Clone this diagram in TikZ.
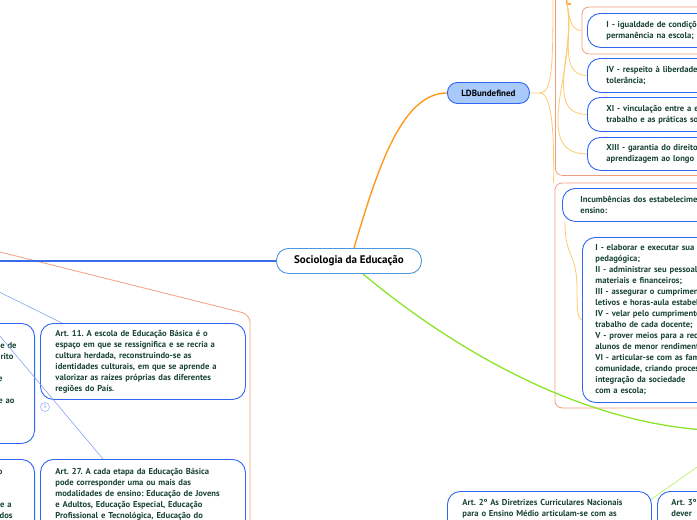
\documentclass[tikz,border=0pt]{standalone}
\usepackage{fontspec}
\setmainfont{PT Sans}
\usepackage{xcolor}
\usetikzlibrary{positioning,fit,backgrounds,calc}
\definecolor{nodeblue}{HTML}{2F66F2}
\definecolor{rootblue}{HTML}{4C98DC}
\definecolor{linkblue}{HTML}{3A6BE8}
\definecolor{paleblue}{HTML}{86A4F4}
\definecolor{ldbfill}{HTML}{A9C9FB}
\definecolor{grouporange}{HTML}{EE9E7C}
\definecolor{branchorange}{HTML}{FF9A1F}
\definecolor{twigorange}{HTML}{FFC970}
\definecolor{branchgreen}{HTML}{8BE42A}
\definecolor{twiggreen}{HTML}{B8F070}
\definecolor{txtgreen}{HTML}{1A4536}
\frenchspacing

\begin{document}
\begin{tikzpicture}[
  x=1pt, y=-1pt,
  font=\bfseries\fontsize{8.6}{11}\selectfont,
  root/.style={draw=rootblue, line width=0.9pt, rounded corners=12pt, fill=white,
               minimum width=145pt, minimum height=25pt, anchor=north west,
               font=\bfseries\fontsize{11}{12}\selectfont},
  subtopic/.style={draw=nodeblue, line width=0.9pt, rounded corners=10pt, fill=ldbfill,
                   minimum width=82pt, minimum height=21pt, anchor=north west,
                   font=\bfseries\fontsize{9}{11}\selectfont},
  topic/.style={draw=nodeblue, line width=0.9pt, rounded corners=13pt, fill=white,
                text=txtgreen, align=left, anchor=north west, inner ysep=0pt},
  group/.style={draw=grouporange, line width=0.8pt, rounded corners=7pt},
  badge/.style={circle, draw=nodeblue!55, line width=0.5pt, fill=white, inner sep=0pt,
                minimum size=9pt, text=nodeblue!70, font=\fontsize{5}{5}\selectfont},
  trunk/.style={linkblue, line width=1.8pt},
  link/.style={paleblue, line width=0.6pt},
  bough/.style={branchorange, line width=1.4pt},
  twig/.style={twigorange, line width=0.8pt},
  greenbough/.style={branchgreen, line width=1.3pt},
  greentwig/.style={twiggreen, line width=0.7pt},
]
\useasboundingbox (0,0) rectangle (697,520);

% central topic and the LDB branch
\node[root] (soceduc) at (276,248) {Sociologia da Educação};
\node[subtopic] (ldb) at (447,82) {LDBundefined};

% principles (art. 3)
\node[topic, minimum width=300pt, minimum height=34pt, inner xsep=19pt, text width=262pt]
  (igual) at (587,13) {I - igualdade de condições para o acesso e\\permanência na escola;};
\node[topic, minimum width=300pt, minimum height=34pt, inner xsep=19pt, text width=262pt]
  (respeito) at (587,58) {IV - respeito à liberdade e apreço à\\tolerância;};
\node[topic, minimum width=300pt, minimum height=34pt, inner xsep=19pt, text width=262pt]
  (vinc) at (587,97) {XI - vinculação entre a educação escolar, o\\trabalho e as práticas sociais.};
\node[topic, minimum width=300pt, minimum height=33pt, inner xsep=19pt, text width=262pt]
  (garantia) at (587,137) {XIII - garantia do direito à educação e à\\aprendizagem ao longo da vida.};

% incumbencias (art. 12)
\node[topic, minimum width=300pt, minimum height=33pt, inner xsep=18pt, text width=264pt]
  (incumb) at (562,188) {Incumbências dos estabelecimentos de\\ensino:};
\node[topic, minimum width=300pt, minimum height=165pt, inner xsep=13pt, text width=274pt]
  (incumbitems) at (582,237) {I - elaborar e executar sua proposta\\pedagógica;\\
  II - administrar seu pessoal e seus recursos\\materiais e financeiros;\\
  III - assegurar o cumprimento dos dias\\letivos e horas-aula estabelecidas;\\
  IV - velar pelo cumprimento do plano de\\trabalho de cada docente;\\
  V - prover meios para a recuperação dos\\alunos de menor rendimento;\\
  VI - articular-se com as famílias e a\\comunidade, criando processos de\\
  integração da sociedade\\com a escola;};

% DCN articles (left)
\node[topic, anchor=north east, align=right, minimum width=205pt, inner xsep=15pt,
      text width=175pt, text height=25pt, text depth=95pt]
  (artleft) at (35,323) {e de\kern3pt\\rito\kern6pt\\\mbox{}\\e\kern17pt\\\mbox{}\\e ao\kern5pt};
\node[topic, anchor=north east, align=right, minimum width=205pt, inner xsep=15pt,
      text width=175pt, text height=15pt, text depth=70pt]
  (artleftb) at (35,459) {o\kern17pt\\\mbox{}\\\mbox{}\\e a\kern8pt\\dos\kern7pt};
\node[topic, minimum width=205pt, minimum height=76pt, inner xsep=15pt, text width=175pt]
  (art11) at (40,323) {Art. 11. A escola de Educação Básica é o\\espaço em que se ressignifica e se recria a\\
  cultura herdada, reconstruindo-se as\\identidades culturais, em que se aprende a\\
  valorizar as raízes próprias das diferentes\\regiões do País.};
\node[topic, minimum width=205pt, inner xsep=15pt, text width=175pt,
      text height=15pt, text depth=70pt]
  (art27) at (40,459) {Art. 27. A cada etapa da Educação Básica\\pode corresponder uma ou mais das\\
  modalidades de ensino: Educação de Jovens\\e Adultos, Educação Especial, Educação\\
  Profissional e Tecnológica, Educação do};
\node[badge] (collapsed) at (45,407) {3};

% DCN ensino medio (bottom)
\node[topic, minimum width=204pt, inner xsep=15pt, text width=174pt,
      text height=14pt, text depth=40pt]
  (art2) at (447,491) {Art. 2º As Diretrizes Curriculares Nacionais\\para o Ensino Médio articulam-se com as};
\node[topic, minimum width=204pt, inner xsep=14pt, text width=176pt,
      text height=14pt, text depth=40pt]
  (art3) at (657,491) {Art. 3º\\dever};

\begin{scope}[on background layer]
  \node[group, fit=(igual), inner xsep=5pt, inner ysep=6pt] (igualgrp) {};
  \node[group, anchor=north west, minimum width=320pt, minimum height=245pt] (princgrp) at (555,-70) {};
  \node[group, fit=(incumb)(incumbitems), inner xsep=7pt, inner ysep=5pt] (incumbgrp) {};
  \draw[group, rounded corners=8pt] (-20,247) -- (250,314.5) -- (250,530);

  \coordinate (leftparent) at (-10,261);
  \draw[trunk] (leftparent) -- (soceduc.west);
  \draw[bough] ([xshift=5pt]soceduc.north) .. controls (376,175) and (400,93) .. (ldb.west);

  \coordinate (ldbfork) at (540,93);
  \coordinate (princparent) at (553,-10);
  \draw[twig] (ldb.east) -- (ldbfork) .. controls (553,93) and (553,60) .. (princparent);
  \draw[twig] (ldbfork) .. controls (553,93) and (554,140) .. ([xshift=-1pt]incumbgrp.north west);

  \coordinate (princhead) at (566,-6);
  \coordinate (princstub) at (567,4);
  \draw[twig, line width=1.6pt, branchorange!80] (princhead) -- (princstub) -- ++(4,0);
  \foreach \child in {igualgrp, respeito, vinc, garantia}
    \draw[twig] (princstub) to[out=-78, in=180] (\child.west);

  \draw[twig] ([xshift=3pt]incumb.south west) .. controls (565,260) and (577,250) .. (577,290)
    .. controls (577,312) and (578,319) .. (incumbitems.west);

  \coordinate (greenparent) at (705,430);
  \draw[greenbough] ([xshift=14pt]soceduc.south) .. controls (430,330) and (560,420) .. (greenparent);
  \coordinate (art2parent) at (720,451);
  \draw[greentwig] (art2parent) -- ([xshift=-3pt, yshift=-10pt]art2.north east);
\end{scope}

% links from the DCN parent (off the page)
\coordinate (artparent) at (-20,282.5);
\coordinate (artparentb) at (-20,312.3);
\draw[link] (artparent) -- ([xshift=22pt]art11.north west);
\draw[link] (artparentb) -- ([xshift=63pt]art27.north west);
\end{tikzpicture}
\end{document}
